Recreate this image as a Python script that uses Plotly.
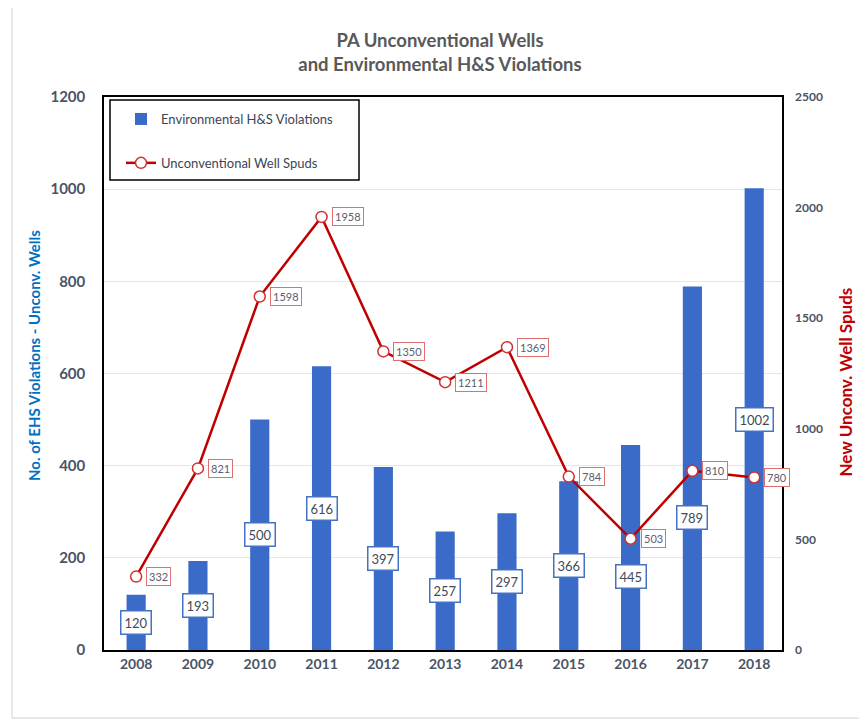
import plotly.graph_objects as go

years = ["2008", "2009", "2010", "2011", "2012", "2013", "2014", "2015", "2016", "2017", "2018"]
violations = [120, 193, 500, 616, 397, 257, 297, 366, 445, 789, 1002]
spuds = [332, 821, 1598, 1958, 1350, 1211, 1369, 784, 503, 810, 780]

# pixel shifts for bar labels (style only)
bar_label_shift = [0, 0, 0, 0, 0, 0, 0, 0, -29, -49, 0]

OFF = 8  # page body margin
W, H = 867 - OFF, 723 - OFF
# plot area in page pixels: left 104, right 782, top 97, bottom 650
L = 104 - OFF
T = 97 - OFF
R = W - (782 - OFF)
B = H - (650 - OFF)
pw, ph = W - L - R, H - T - B

def px_x(p):
    return (p - OFF - L) / pw

def px_y(p):
    return (H - B - (p - OFF)) / ph

TICK = "#4a5466"
FONT = "Lato, 'Open Sans', sans-serif"

fig = go.Figure()
fig.add_trace(go.Bar(
    x=years, y=violations, name="Environmental H&S Violations",
    marker=dict(color="#3a6bc8", line=dict(width=0)), width=0.31,
    legendgroup="a", yaxis="y",
))
fig.add_trace(go.Scatter(
    x=years, y=spuds, name="Unconventional Well Spuds", mode="lines+markers",
    line=dict(color="#c00000", width=2.5),
    marker=dict(size=11, color="white", line=dict(color="#d03030", width=1.5)),
    legendgroup="b", yaxis="y2",
))

annotations = []
for i, v in enumerate(violations):
    annotations.append(dict(
        x=i, y=v / 2, xref="x", yref="y", text=str(v), showarrow=False,
        yshift=bar_label_shift[i],
        font=dict(family=FONT, size=13, color="#404a5a"),
        bgcolor="white", bordercolor="#4472c4", borderwidth=1.5, borderpad=3,
    ))
for i, s in enumerate(spuds):
    annotations.append(dict(
        x=i, y=s, xref="x", yref="y2", text=str(s), showarrow=False,
        xanchor="left", xshift=10,
        font=dict(family=FONT, size=11, color="#5a6070"),
        bgcolor="white", bordercolor="#e07070", borderwidth=1, borderpad=2,
    ))
annotations.append(dict(
    x=px_x(23), y=px_y(356), xref="paper", yref="paper", showarrow=False,
    text="<b>No. of EHS Violations - Unconv. Wells</b>", textangle=-90,
    font=dict(family=FONT, size=15, color="#0070c0"),
))
annotations.append(dict(
    x=px_x(857), y=px_y(382), xref="paper", yref="paper", showarrow=False,
    text="<b>New Unconv. Well Spuds</b>", textangle=-90,
    font=dict(family=FONT, size=17, color="#c00000"),
))

fig.update_layout(
    width=W, height=H,
    margin=dict(l=L, r=R, t=T, b=B),
    paper_bgcolor="white", plot_bgcolor="white",
    title=dict(
        text="<b>PA Unconventional Wells<br>and Environmental H&S Violations</b>",
        x=px_x(440), xanchor="center", y=1 - (47 - OFF) / H, yanchor="middle",
        xref="paper",
        font=dict(family=FONT, size=18.5, color="#595959"),
    ),
    xaxis=dict(
        type="category", range=[-0.52, 10.45],
        showline=True, linecolor="black", linewidth=1.5, mirror=True,
        ticks="", tickfont=dict(family=FONT, size=14, color=TICK, weight="bold"),
        showgrid=False,
    ),
    yaxis=dict(
        range=[0, 1200], dtick=200,
        showline=True, linecolor="black", linewidth=1.5, mirror=True,
        gridcolor="#e3e6ea", gridwidth=1, zeroline=False,
        tickfont=dict(family=FONT, size=15, color=TICK, weight="bold"),
        ticks="", ticklabelstandoff=14,
    ),
    yaxis2=dict(
        range=[0, 2500], dtick=500, overlaying="y", side="right",
        showgrid=False, zeroline=False,
        tickfont=dict(family=FONT, size=12, color=TICK, weight="bold"),
        ticks="", ticklabelstandoff=12,
    ),
    legend=dict(
        x=px_x(121), y=px_y(104), xanchor="left", yanchor="top",
        bgcolor="rgba(0,0,0,0)", borderwidth=0,
        font=dict(family=FONT, size=13, color="#3b4656"),
        traceorder="grouped", tracegroupgap=24,
    ),
    annotations=annotations,
    shapes=[
        dict(
            type="rect", xref="paper", yref="paper",
            x0=px_x(12), x1=px_x(862), y0=px_y(718), y1=px_y(6),
            line=dict(color="#d0d0d0", width=1), fillcolor="rgba(0,0,0,0)", layer="below",
        ),
        dict(
            type="rect", xref="paper", yref="paper",
            x0=px_x(110), x1=px_x(359), y0=px_y(180), y1=px_y(100),
            line=dict(color="black", width=1.5), fillcolor="white", layer="above",
        ),
    ],
    showlegend=True,
)

fig.write_html("out.html")
